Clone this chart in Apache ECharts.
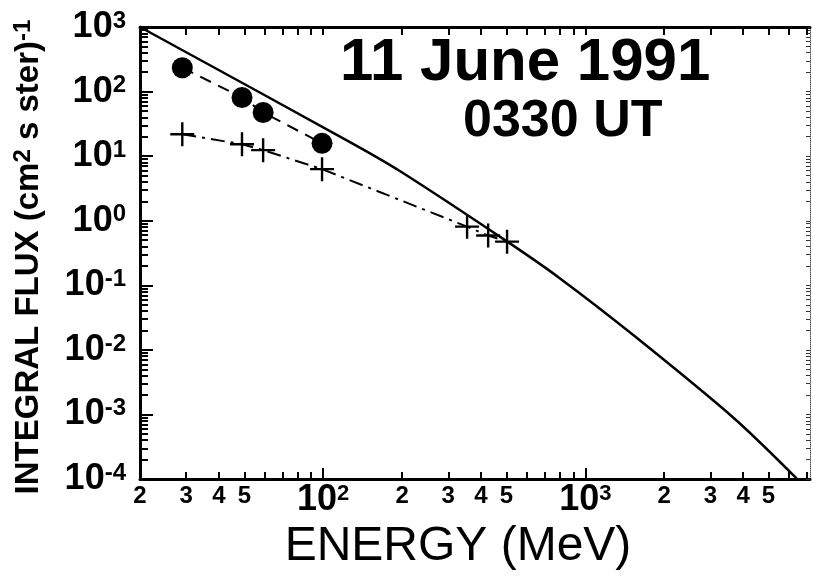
<!DOCTYPE html>
<html><head><meta charset="utf-8">
<script src="https://cdn.jsdelivr.net/npm/echarts@6/dist/echarts.min.js"></script>
<style>html,body{margin:0;padding:0;background:#fff}#c{width:813px;height:576px}</style>
</head><body><div id="c"></div>
<script>
// ---- data (energy in MeV, integral flux in (cm2 s ster)^-1) ----
const curveEnergy = [20, 127, 196, 504, 801, 1524, 3665, 6440];
const curveFlux   = [1000, 16.4, 5.9, 0.475, 0.128, 0.017, 0.0009, 0.0001];
const circleEnergy = [29, 49, 59, 99];
const circleFlux   = [234, 81, 47.5, 15.8];
const crossEnergy = [29, 49, 59, 99, 354, 426, 503];
const crossFlux   = [21.8, 15.3, 12.4, 6.3, 0.81, 0.59, 0.475];
const xLabelValues = [20, 30, 40, 50, 100, 200, 300, 400, 500, 1000, 2000, 3000, 4000, 5000];
const xMinorTicks = [30, 40, 50, 60, 70, 80, 90, 200, 300, 400, 500, 600, 700, 800, 900, 2000, 3000, 4000, 5000, 6000, 7000];
const xMajorTicks = [100, 1000];
const yDecades = [-4, -3, -2, -1, 0, 1, 2, 3];
const yMinorFactors = [2, 3, 4, 5, 6, 7, 8, 9];
const xMin = 20, xMax = 7200;
const titleLine1 = '11 June 1991';
const titleLine2 = '0330 UT';
const xTitle = 'ENERGY (MeV)';

const lg = Math.log10;
const FONT = '"Liberation Sans", Arial, sans-serif';
const pairs = (xs, ys) => xs.map((x, i) => [lg(x), lg(ys[i])]);
const yMinor = [];
yDecades.slice(0, -1).forEach(d => yMinorFactors.forEach(f => yMinor.push(d + lg(f))));
const xMinorLog = xMinorTicks.map(lg);
const xMajorLog = xMajorTicks.map(lg);

function xLabelFmt(v) {
  const e = Math.round(Math.pow(10, v));
  const ex = Math.round(v);
  if (Math.abs(Math.pow(10, ex) - e) < 1e-6) return '{b|10}{s|' + ex + '}';
  return '{m|' + String(e)[0] + '}';
}
function yLabelFmt(v) { return '{b|10}{s|' + Math.round(v) + '}'; }

const chart = echarts.init(document.getElementById('c'), null, {renderer: 'canvas'});
const black = '#000';
const baseX = {type: 'value', min: lg(xMin), max: lg(xMax), splitLine: {show: false}};
const baseY = {type: 'value', min: -4, max: 3, interval: 1, splitLine: {show: false}};

chart.setOption({
  animation: false,
  backgroundColor: '#fff',
  grid: {left: 140, top: 27, right: 3, bottom: 94, containLabel: false},
  xAxis: [
    Object.assign({}, baseX, {
      position: 'bottom',
      axisLine: {show: true, onZero: false, lineStyle: {color: black, width: 3}},
      axisTick: {show: true, inside: true, length: 7, lineStyle: {color: black, width: 2}, customValues: xMinorLog},
      axisLabel: {show: true, margin: 4, customValues: xLabelValues.map(lg), formatter: xLabelFmt,
        rich: {
          m: {fontFamily: FONT, fontWeight: 'bold', fontSize: 24, color: black, lineHeight: 26},
          b: {fontFamily: FONT, fontWeight: 'bold', fontSize: 36, color: black, lineHeight: 34},
          s: {fontFamily: FONT, fontWeight: 'bold', fontSize: 22, color: black, lineHeight: 22, verticalAlign: 'top'}
        }},
      name: xTitle, nameLocation: 'middle', nameGap: 43,
      nameTextStyle: {fontFamily: FONT, fontSize: 48, color: black, padding: [0, 34, 0, 0]}
    }),
    Object.assign({}, baseX, {
      position: 'bottom',
      axisLine: {show: false, onZero: false},
      axisTick: {show: true, inside: true, length: 11, lineStyle: {color: black, width: 2}, customValues: xMajorLog},
      axisLabel: {show: false}
    }),
    Object.assign({}, baseX, {
      position: 'top',
      axisLine: {show: true, onZero: false, lineStyle: {color: black, width: 3}},
      axisTick: {show: true, inside: true, length: 8, lineStyle: {color: black, width: 2}, customValues: xMinorLog.concat(xMajorLog)},
      axisLabel: {show: false}
    })
  ],
  yAxis: [
    Object.assign({}, baseY, {
      position: 'left',
      axisLine: {show: true, onZero: false, lineStyle: {color: black, width: 3}},
      axisTick: {show: true, inside: true, length: 8, lineStyle: {color: black, width: 2}, customValues: yMinor},
      axisLabel: {show: true, margin: 14, formatter: yLabelFmt,
        rich: {
          b: {fontFamily: FONT, fontWeight: 'bold', fontSize: 36, color: black, lineHeight: 36},
          s: {fontFamily: FONT, fontWeight: 'bold', fontSize: 24, color: black, lineHeight: 24, verticalAlign: 'top'}
        }},
      name: '{t|INTEGRAL FLUX (cm}{u|2}{t| s ster)}{u|-1}', nameLocation: 'middle', nameGap: 93,
      nameTextStyle: {padding: [0, 8, 0, 0],
        rich: {
          t: {fontFamily: FONT, fontWeight: 'bold', fontSize: 33, color: black, lineHeight: 36},
          u: {fontFamily: FONT, fontWeight: 'bold', fontSize: 24, color: black, lineHeight: 24, verticalAlign: 'top'}
        }}
    }),
    Object.assign({}, baseY, {
      position: 'left',
      axisLine: {show: false, onZero: false},
      axisTick: {show: true, inside: true, length: 13, lineStyle: {color: black, width: 2}, customValues: yDecades},
      axisLabel: {show: false}
    }),
    Object.assign({}, baseY, {
      position: 'right',
      axisLine: {show: true, onZero: false, lineStyle: {color: '#555', width: 1, type: 'dotted'}},
      axisTick: {show: true, inside: true, length: 4, lineStyle: {color: '#333', width: 1}, customValues: yMinor.concat(yDecades)},
      axisLabel: {show: false}
    })
  ],
  series: [
    {
      type: 'line', name: 'model', data: pairs(curveEnergy, curveFlux),
      showSymbol: false, smooth: 0.3, silent: true,
      lineStyle: {color: black, width: 2.5}
    },
    {
      type: 'line', name: 'circles', data: pairs(circleEnergy, circleFlux),
      symbol: 'circle', symbolSize: 21, showSymbol: true,
      itemStyle: {color: black},
      lineStyle: {color: black, width: 2, type: [12, 8]}
    },
    {
      type: 'line', name: 'crosses', data: pairs(crossEnergy, crossFlux),
      symbol: 'path://M-1,-10 L1,-10 L1,10 L-1,10 Z M-10,-1 L10,-1 L10,1 L-10,1 Z',
      symbolSize: 24, showSymbol: true,
      itemStyle: {color: black},
      lineStyle: {color: black, width: 2, type: [14, 6, 3, 6]}
    }
  ],
  graphic: [
    {type: 'text', left: 340, top: 33, style: {text: titleLine1, fontFamily: FONT, fontWeight: 'bold', fontSize: 60, fill: black}},
    {type: 'text', left: 463, top: 96, style: {text: titleLine2, fontFamily: FONT, fontWeight: 'bold', fontSize: 52, fill: black}}
  ]
});
</script></body></html>
